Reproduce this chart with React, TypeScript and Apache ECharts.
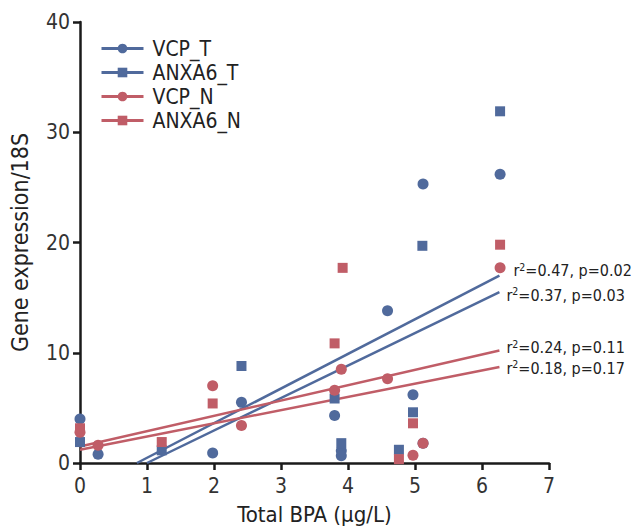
import React, { useEffect, useRef } from "react";
import * as echarts from "echarts";

const FONT = "'DejaVu Sans Condensed', 'Liberation Sans Narrow', Roboto, sans-serif";
const BLUE = "#506a9c";
const RED = "#c05d67";
const TEXT = "#222222";

const seriesNames = ["VCP_T", "ANXA6_T", "VCP_N", "ANXA6_N"];
const seriesColors = [BLUE, BLUE, RED, RED];
const seriesSymbols = ["circle", "rect", "circle", "rect"];

const vcpTX = [0, 0.27, 1.98, 2.41, 3.8, 3.9, 3.9, 4.59, 4.97, 5.12, 5.12, 6.27];
const vcpTY = [4.0, 0.8, 0.9, 5.5, 4.3, 1.1, 0.65, 13.8, 6.2, 1.8, 25.3, 26.2];
const anxTX = [0, 1.22, 2.41, 3.8, 3.9, 4.76, 4.97, 5.11, 6.27];
const anxTY = [1.9, 1.15, 8.8, 5.85, 1.8, 1.2, 4.6, 19.7, 31.9];
const vcpNX = [0, 0.27, 1.98, 2.41, 3.8, 3.9, 4.59, 4.97, 5.12, 6.27];
const vcpNY = [2.8, 1.6, 7.0, 3.4, 6.6, 8.5, 7.65, 0.7, 1.8, 17.7];
const anxNX = [0, 1.22, 1.98, 3.8, 3.92, 4.76, 4.97, 6.27];
const anxNY = [3.15, 1.9, 5.4, 10.85, 17.7, 0.35, 3.6, 19.8];

// regression line endpoints [x0, y0, x1, y1]
const regVcpT = [0.85, 0, 6.26, 17.0];
const regAnxT = [1.0, 0, 6.26, 15.5];
const regVcpN = [0, 1.5, 6.26, 10.2];
const regAnxN = [0, 1.2, 6.26, 8.7];
const regLabels = ["r{sup|2}=0.47, p=0.02", "r{sup|2}=0.37, p=0.03", "r{sup|2}=0.24, p=0.11", "r{sup|2}=0.18, p=0.17"];
const regLabelOffsets = [[6, -5], [-1, 3], [-1, -3], [-1, 1]];

const xTicks = [0, 7, 1];
const yTicks = [0, 40, 10];

const pts = [
  [vcpTX, vcpTY],
  [anxTX, anxTY],
  [vcpNX, vcpNY],
  [anxNX, anxNY],
];
const regs = [regVcpT, regAnxT, regVcpN, regAnxN];

export default function App() {
  const ref = useRef<HTMLDivElement>(null);
  useEffect(() => {
    document.body.style.margin = "0";
    const chart = echarts.init(ref.current!, null, { renderer: "svg" });
    const lineSeries = regs.map((r, i) => ({
      type: "line",
      name: seriesNames[i],
      data: [[r[0], r[1]], [r[2], r[3]]],
      symbol: seriesSymbols[i],
      symbolSize: 10,
      showSymbol: false,
      lineStyle: { color: seriesColors[i], width: 2.5 },
      itemStyle: { color: seriesColors[i] },
      z: 2,
      endLabel: {
        show: true,
        formatter: regLabels[i],
        offset: regLabelOffsets[i],
        color: TEXT,
        fontFamily: FONT,
        fontSize: 16,
        rich: {
          sup: { fontSize: 10.5, verticalAlign: "top", padding: [0, 0, 8, 0], fontFamily: FONT, color: TEXT },
        },
      },
      silent: true,
    }));
    const scatterSeries = pts.map((p, i) => ({
      type: "scatter",
      name: seriesNames[i],
      data: p[0].map((x, j) => [x, p[1][j]]),
      symbol: seriesSymbols[i],
      symbolSize: seriesSymbols[i] === "circle" ? 11 : 10,
      itemStyle: { color: seriesColors[i], opacity: 1 },
      z: 3,
    }));
    chart.setOption({
      animation: false,
      backgroundColor: "#ffffff",
      textStyle: { fontFamily: FONT },
      grid: { left: 79, right: 84, top: 22, bottom: 50, containLabel: false },
      legend: {
        orient: "vertical",
        left: 100,
        top: 38,
        padding: 0,
        itemWidth: 42,
        itemHeight: 12,
        itemGap: 3,
        data: seriesNames,
        lineStyle: { width: 3 },
        textStyle: { fontFamily: FONT, fontSize: 21, color: TEXT, padding: [0, 0, 0, 4] },
        selectedMode: false,
      },
      xAxis: {
        type: "value",
        min: xTicks[0],
        max: xTicks[1],
        interval: xTicks[2],
        name: "Total BPA (μg/L)",
        nameLocation: "middle",
        nameGap: 40,
        nameTextStyle: { fontFamily: FONT, fontSize: 22, color: TEXT },
        axisLine: { show: true, onZero: false, lineStyle: { color: "#1a1a1a", width: 2.5 } },
        axisTick: { show: true, length: 7, lineStyle: { color: "#1a1a1a", width: 2.5 } },
        axisLabel: { fontFamily: FONT, fontSize: 21, color: "#333", margin: 12 },
        splitLine: { show: false },
      },
      yAxis: {
        type: "value",
        min: yTicks[0],
        max: yTicks[1],
        interval: yTicks[2],
        name: "Gene expression/18S",
        nameLocation: "middle",
        nameGap: 49,
        nameTextStyle: { fontFamily: FONT, fontSize: 23, color: TEXT },
        axisLine: { show: true, lineStyle: { color: "#1a1a1a", width: 2.5 } },
        axisTick: { show: true, length: 7, lineStyle: { color: "#1a1a1a", width: 2.5 } },
        axisLabel: { fontFamily: FONT, fontSize: 21, color: "#333", margin: 10 },
        splitLine: { show: false },
      },
      series: [...lineSeries, ...scatterSeries],
    });
    return () => chart.dispose();
  }, []);
  return <div ref={ref} style={{ width: 633, height: 530 }} />;
}
